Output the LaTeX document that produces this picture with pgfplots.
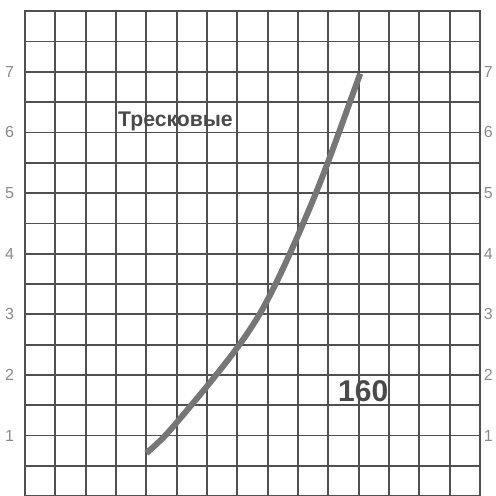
\documentclass[border=0pt]{standalone}
\usepackage{fontspec}
\setmainfont{Liberation Sans}
\usepackage{pgfplots}
\pgfplotsset{compat=1.18}
\definecolor{gridc}{HTML}{505050}
\definecolor{curvec}{HTML}{767676}
\definecolor{labc}{HTML}{8A8A8A}
\definecolor{txtc}{HTML}{4A4A4A}
\begin{document}
\begin{tikzpicture}
\pgfplotsset{
  common/.style={
    at={(0,0)}, anchor=south west,
    scale only axis, width=227.5pt, height=242.5pt,
    xmin=0, xmax=15, ymin=0, ymax=8,
    major tick length=0pt, minor tick length=0pt,
    /pgf/number format/assume math mode=true,
    ticklabel style={font=\fontsize{8}{9}\selectfont, text=labc},
  }
}
\begin{axis}[common,
    axis line style={draw=gridc, line width=1.1pt},
    xtick={0,1,...,15}, xticklabels={},
    ytick={1,2,...,7},
    minor ytick={0.5,1.5,...,7.5},
    grid=both,
    major grid style={draw=gridc, line width=0.9pt},
    minor grid style={draw=gridc, line width=0.9pt},
    yticklabel style={xshift=-2pt},
  ]
  \addplot[draw=curvec, line width=3pt, smooth, tension=0.6] coordinates {
    (4.0,0.71) (4.62,1.0) (5.48,1.5) (6.3,2.0) (7.07,2.5) (7.73,3.0)
    (8.26,3.5) (8.73,4.0) (9.17,4.5) (9.59,5.0) (9.98,5.5) (10.35,6.0)
    (10.71,6.5) (11.05,6.97)
  };
  \node[anchor=base, text=txtc, font=\bfseries\fontsize{10.6}{12}\selectfont] at (axis cs:4.96,6.1) {Тресковые};
  \node[anchor=base, text=txtc, font=\bfseries\fontsize{15}{17}\selectfont] at (axis cs:11.15,1.57) {160};
\end{axis}
\begin{axis}[common,
    axis line style={draw=none},
    xtick=\empty,
    ytick={1,2,...,7},
    yticklabel pos=right,
    yticklabel style={xshift=-1.6pt},
  ]
  \addplot[draw=none] coordinates {(0,0) (15,8)};
\end{axis}
\pgfresetboundingbox
\useasboundingbox (-12.5pt,0.6pt) rectangle (235.5pt,248.1pt);
\end{tikzpicture}
\end{document}
